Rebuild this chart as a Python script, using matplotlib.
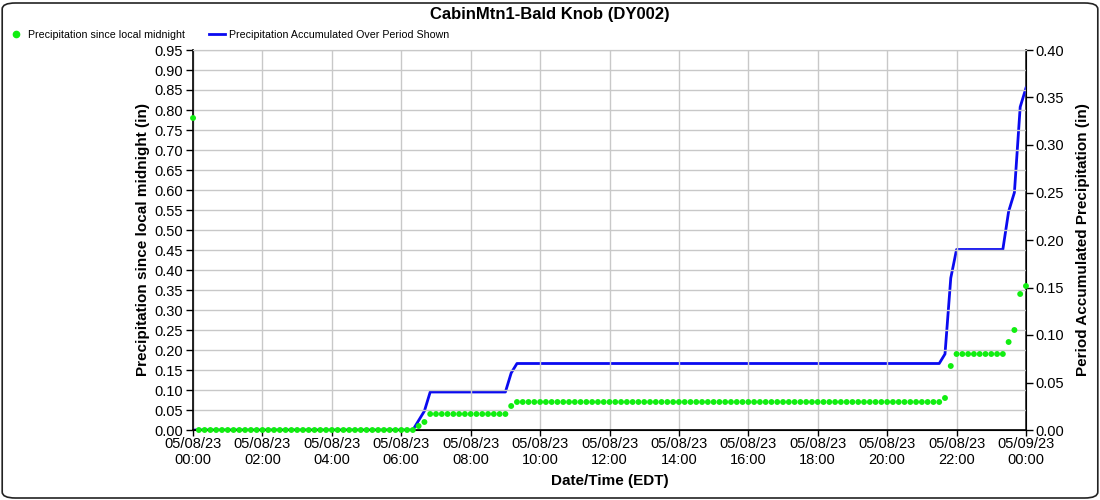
import matplotlib
matplotlib.use("Agg")
import matplotlib.pyplot as plt
import matplotlib.dates as mdates
from matplotlib.patches import FancyBboxPatch
from matplotlib.lines import Line2D
import pandas as pd

plt.rcParams['font.family'] = ['Liberation Sans', 'DejaVu Sans']

# 10-minute observation times, 05/08/23 00:00 .. 05/09/23 00:00
times = pd.date_range("2023-05-08 00:00", "2023-05-09 00:00", freq="10min")

# Precipitation since local midnight (in), one row per hour (:00 :10 :20 :30 :40 :50)
since_midnight = [
    0.78, 0.00, 0.00, 0.00, 0.00, 0.00,   # 00
    0.00, 0.00, 0.00, 0.00, 0.00, 0.00,   # 01
    0.00, 0.00, 0.00, 0.00, 0.00, 0.00,   # 02
    0.00, 0.00, 0.00, 0.00, 0.00, 0.00,   # 03
    0.00, 0.00, 0.00, 0.00, 0.00, 0.00,   # 04
    0.00, 0.00, 0.00, 0.00, 0.00, 0.00,   # 05
    0.00, 0.00, 0.00, 0.01, 0.02, 0.04,   # 06
    0.04, 0.04, 0.04, 0.04, 0.04, 0.04,   # 07
    0.04, 0.04, 0.04, 0.04, 0.04, 0.04,   # 08
    0.04, 0.06, 0.07, 0.07, 0.07, 0.07,   # 09
    0.07, 0.07, 0.07, 0.07, 0.07, 0.07,   # 10
    0.07, 0.07, 0.07, 0.07, 0.07, 0.07,   # 11
    0.07, 0.07, 0.07, 0.07, 0.07, 0.07,   # 12
    0.07, 0.07, 0.07, 0.07, 0.07, 0.07,   # 13
    0.07, 0.07, 0.07, 0.07, 0.07, 0.07,   # 14
    0.07, 0.07, 0.07, 0.07, 0.07, 0.07,   # 15
    0.07, 0.07, 0.07, 0.07, 0.07, 0.07,   # 16
    0.07, 0.07, 0.07, 0.07, 0.07, 0.07,   # 17
    0.07, 0.07, 0.07, 0.07, 0.07, 0.07,   # 18
    0.07, 0.07, 0.07, 0.07, 0.07, 0.07,   # 19
    0.07, 0.07, 0.07, 0.07, 0.07, 0.07,   # 20
    0.07, 0.07, 0.07, 0.07, 0.08, 0.16,   # 21
    0.19, 0.19, 0.19, 0.19, 0.19, 0.19,   # 22
    0.19, 0.19, 0.19, 0.22, 0.25, 0.34,   # 23
    0.36,                                 # 24
]

# Precipitation accumulated over period shown (in)
period_accum = [
    0.00, 0.00, 0.00, 0.00, 0.00, 0.00,   # 00
    0.00, 0.00, 0.00, 0.00, 0.00, 0.00,   # 01
    0.00, 0.00, 0.00, 0.00, 0.00, 0.00,   # 02
    0.00, 0.00, 0.00, 0.00, 0.00, 0.00,   # 03
    0.00, 0.00, 0.00, 0.00, 0.00, 0.00,   # 04
    0.00, 0.00, 0.00, 0.00, 0.00, 0.00,   # 05
    0.00, 0.00, 0.00, 0.01, 0.02, 0.04,   # 06
    0.04, 0.04, 0.04, 0.04, 0.04, 0.04,   # 07
    0.04, 0.04, 0.04, 0.04, 0.04, 0.04,   # 08
    0.04, 0.06, 0.07, 0.07, 0.07, 0.07,   # 09
    0.07, 0.07, 0.07, 0.07, 0.07, 0.07,   # 10
    0.07, 0.07, 0.07, 0.07, 0.07, 0.07,   # 11
    0.07, 0.07, 0.07, 0.07, 0.07, 0.07,   # 12
    0.07, 0.07, 0.07, 0.07, 0.07, 0.07,   # 13
    0.07, 0.07, 0.07, 0.07, 0.07, 0.07,   # 14
    0.07, 0.07, 0.07, 0.07, 0.07, 0.07,   # 15
    0.07, 0.07, 0.07, 0.07, 0.07, 0.07,   # 16
    0.07, 0.07, 0.07, 0.07, 0.07, 0.07,   # 17
    0.07, 0.07, 0.07, 0.07, 0.07, 0.07,   # 18
    0.07, 0.07, 0.07, 0.07, 0.07, 0.07,   # 19
    0.07, 0.07, 0.07, 0.07, 0.07, 0.07,   # 20
    0.07, 0.07, 0.07, 0.07, 0.08, 0.16,   # 21
    0.19, 0.19, 0.19, 0.19, 0.19, 0.19,   # 22
    0.19, 0.19, 0.19, 0.23, 0.25, 0.34,   # 23
    0.36,                                 # 24
]

left_ticks = [i * 0.05 for i in range(20)]
right_ticks = [i * 0.05 for i in range(9)]

green = '#11ee11'
blue = '#0a0af0'

fig = plt.figure(figsize=(11, 5), dpi=100)
# rounded border
fig.patches.append(FancyBboxPatch((0.002, 0.004), 0.996, 0.99,
                                  boxstyle="round,pad=0,rounding_size=0.012",
                                  transform=fig.transFigure, fill=False,
                                  edgecolor='#222222', linewidth=1.2))

ax = fig.add_axes([0.1755, 0.14, 0.7572, 0.76])
ax2 = ax.twinx()
ax.set_zorder(ax2.get_zorder() + 1)
ax.patch.set_visible(False)

ax2.plot(times, period_accum, color=blue, linewidth=2.0, zorder=3)
ax.scatter(times, since_midnight, s=18, color=green, edgecolors='none', zorder=4,
           clip_on=False)

ax.set_xlim(times[0], times[-1])
ax.set_ylim(0, 0.95)
ax2.set_ylim(0, 0.40)
ax.set_yticks(left_ticks)
ax.set_yticklabels([f"{v:.2f}" for v in left_ticks])
ax2.set_yticks(right_ticks)
ax2.set_yticklabels([f"{v:.2f}" for v in right_ticks])

ax.xaxis.set_major_locator(mdates.HourLocator(byhour=range(0, 24, 2)))
ax.xaxis.set_major_formatter(mdates.DateFormatter("%m/%d/%y\n%H:%M"))

ax.grid(True, color='#c8c8c8', linewidth=1.0)
for a in (ax, ax2):
    a.tick_params(labelsize=10.5, length=5, width=1, color='black', direction='out',
                  pad=2)
    a.spines['top'].set_color('#c8c8c8')
ax.tick_params(axis='x', length=4, pad=1)
ax.spines['left'].set_linewidth(1.2)
ax.spines['bottom'].set_linewidth(1.2)
ax2.spines['right'].set_linewidth(1.2)

ax.set_ylabel("Precipitation since local midnight (in)", fontsize=11, fontweight='bold',
              labelpad=3)
ax2.set_ylabel("Period Accumulated Precipitation (in)", fontsize=11, fontweight='bold',
               labelpad=8)
ax.set_xlabel("Date/Time (EDT)", fontsize=11, fontweight='bold', labelpad=5)

fig.text(0.5, 0.972, "CabinMtn1-Bald Knob (DY002)", ha='center', va='center',
         fontsize=12, fontweight='bold')

# legend row
h1 = Line2D([], [], marker='o', linestyle='none', color=green, markersize=4.5)
h2 = Line2D([], [], color=blue, linewidth=2)
fig.legend([h1, h2], ["Precipitation since local midnight",
                      "Precipitation Accumulated Over Period Shown"],
           loc='center left', bbox_to_anchor=(0.007, 0.930), ncol=2, frameon=False,
           fontsize=7.7, handlelength=1.5, handletextpad=0.4, columnspacing=2.2,
           borderpad=0, borderaxespad=0)

fig.savefig("out.png", dpi=100)
